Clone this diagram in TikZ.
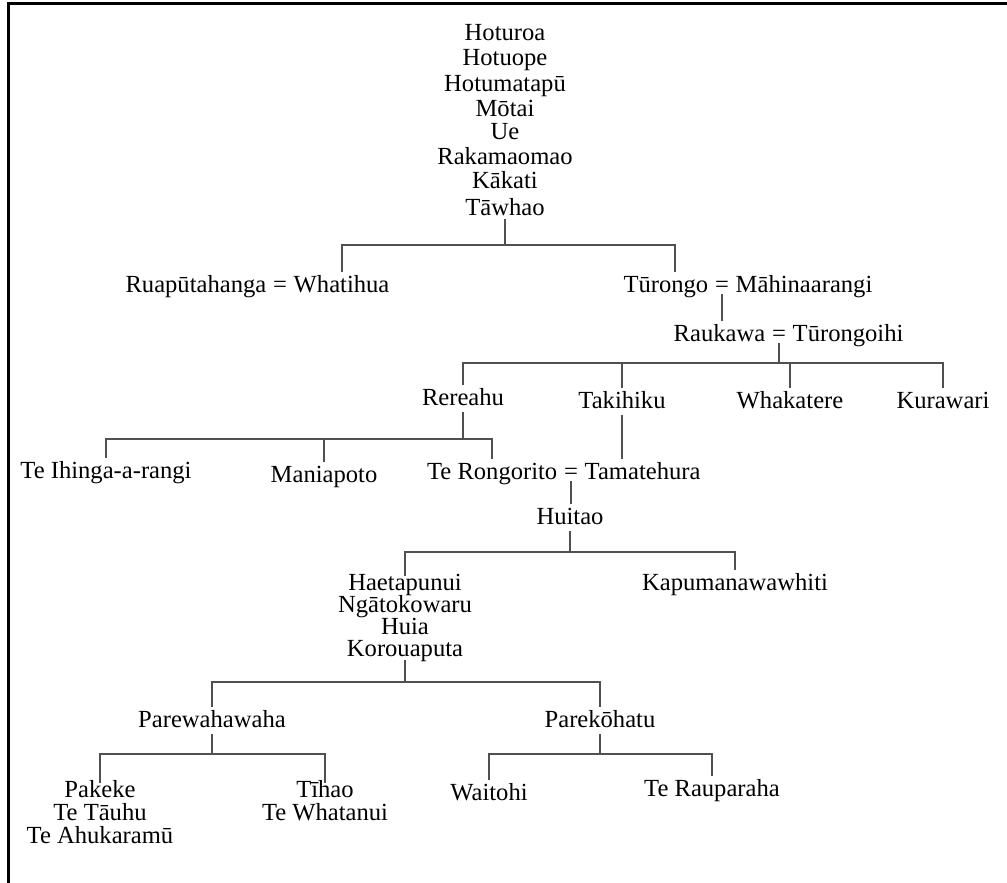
\documentclass[tikz,border=0pt]{standalone}
\usepackage{fontspec}
\setmainfont{Liberation Serif}
\usepackage{tikz}
\usetikzlibrary{positioning}

\definecolor{treeline}{HTML}{505050}
\tikzset{
  person/.style={font=\fontsize{12.3}{14}\selectfont, anchor=base, inner xsep=1pt, inner ysep=1pt, text height=8.6pt, text depth=2.5pt},
  stackline/.style={person, inner ysep=0pt, text height=7pt, text depth=1.8pt},
  wed/.style={person, inner xsep=2pt, text depth=0pt},
  kin/.style={draw=treeline, line width=1pt},
}

\begin{document}
\begin{tikzpicture}[x=0.5pt, y=-0.5pt]
\useasboundingbox (0,0) rectangle (1007,883);

% Frame (top and left only)
\draw[line width=1.5pt] (1007,4) -- (8,4) -- (8,883);

% Line of descent at the top
\foreach \who/\yy [count=\i] in {Hoturoa/41, Hotuope/66, Hotumatapū/92, Mōtai/117, Ue/140, Rakamaomao/164, Kākati/189, Tāwhao/215}
  \node[stackline] (line\i) at (505,\yy) {\who};

% Couples below Tāwhao
\node[wed] (eqA) at (280,292) {=};
\node[person, base left=0pt of eqA] (ruaputahanga) {Ruapūtahanga};
\node[person, base right=0pt of eqA] (whatihua) {Whatihua};
\node[wed] (eqB) at (722,292) {=};
\node[person, base left=0pt of eqB] (turongo) {Tūrongo};
\node[person, base right=0pt of eqB] (mahinaarangi) {Māhinaarangi};
\node[wed] (eqC) at (779,341) {=};
\node[person, base left=0pt of eqC] (raukawa) {Raukawa};
\node[person, base right=0pt of eqC] (turongoihi) {Tūrongoihi};

% Children of Raukawa
\node[person] (rereahu) at (463,405) {Rereahu};
\node[person] (takihiku) at (622,408) {Takihiku};
\node[person] (whakatere) at (790,408) {Whakatere};
\node[person] (kurawari) at (943,408) {Kurawari};

% Children of Rereahu
\node[person] (teihinga) at (106,478) {Te Ihinga-a-rangi};
\node[person] (maniapoto) at (324,482) {Maniapoto};
\node[wed] (eqD) at (571,479) {=};
\node[person, base left=0pt of eqD] (terongorito) {Te Rongorito};
\node[person, base right=0pt of eqD] (tamatehura) {Tamatehura};

\node[person] (huitao) at (570,524) {Huitao};

% Line from Haetapunui
\foreach \who/\yy [count=\i] in {Haetapunui/590, Ngātokowaru/612, Huia/634, Korouaputa/656}
  \node[stackline] (mid\i) at (405,\yy) {\who};
\node[person] (kapumanawawhiti) at (735,590) {Kapumanawawhiti};

\node[person] (parewahawaha) at (212,727) {Parewahawaha};
\node[person] (parekohatu) at (600,727) {Parekōhatu};

% Bottom lines
\foreach \who/\yy [count=\i] in {Pakeke/797, Te Tāuhu/820, Te Ahukaramū/843}
  \node[stackline] (pakeke\i) at (100,\yy) {\who};
\foreach \who/\yy [count=\i] in {Tīhao/797, Te Whatanui/820}
  \node[stackline] (tihao\i) at (325,\yy) {\who};
\node[person] (waitohi) at (489,800) {Waitohi};
\node[person] (terauparaha) at (712,796) {Te Rauparaha};

% Connectors
\draw[kin] (line8.south) -- ++(0,26) -| (whatihua.north);
\draw[kin] (line8.south) -- ++(0,26) -| ([xshift=4.5pt]turongo.north);
\draw[kin] (eqB.south) -- (eqB.south |- eqC.north);
\foreach \kid in {rereahu, takihiku, whakatere, kurawari}
  \draw[kin] (eqC.south) -- ++(0,20) -| (\kid.north);
\foreach \kid in {teihinga, maniapoto, terongorito}
  \draw[kin] (rereahu.south) -- ++(0,27) -| (\kid.north);
\draw[kin] (takihiku.south) -- (takihiku.south |- tamatehura.north);
\draw[kin] (eqD.south) -- (eqD.south |- huitao.north);
\foreach \kid in {mid1, kapumanawawhiti}
  \draw[kin] (huitao.south) -- ++(0,21) -| (\kid.north);
\foreach \kid in {parewahawaha, parekohatu}
  \draw[kin] (mid4.south) -- ++(0,22) -| (\kid.north);
\foreach \kid in {pakeke1, tihao1}
  \draw[kin] (parewahawaha.south) -- ++(0,20) -| (\kid.north);
\foreach \kid in {waitohi, terauparaha}
  \draw[kin] (parekohatu.south) -- ++(0,20) -| (\kid.north);
\end{tikzpicture}
\end{document}
